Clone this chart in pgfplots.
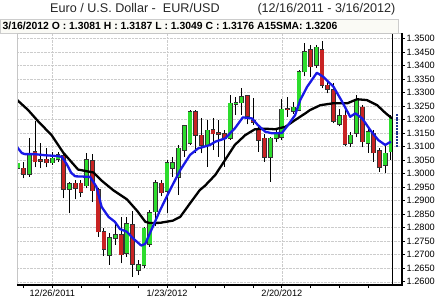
\documentclass[border=0pt]{standalone}
\usepackage{pgfplots}
\pgfplotsset{compat=1.18}
\usepackage{pgfplotstable}
\usepackage{fontspec}
\setmainfont{Liberation Sans}
\definecolor{cgreen}{RGB}{45,220,45}
\definecolor{cred}{RGB}{200,35,35}
\definecolor{cblue}{RGB}{25,25,230}
\definecolor{infobg}{RGB}{250,250,245}
\definecolor{cnavy}{RGB}{30,50,140}

% candle index, open, high, low, close
\pgfplotstableread{
i o h l c
0 1.3019 1.3045 1.3010 1.3038
1 1.3019 1.3044 1.2982 1.2998
2 1.2998 1.3130 1.2988 1.3075
3 1.3081 1.3195 1.3023 1.3044
4 1.3052 1.3114 1.3019 1.3046
5 1.3053 1.3093 1.3023 1.3040
6 1.3040 1.3081 1.3032 1.3056
7 1.3053 1.3081 1.3044 1.3069
8 1.3066 1.3075 1.2908 1.2942
9 1.2942 1.2970 1.2853 1.2961
10 1.2964 1.2975 1.2905 1.2945
11 1.2964 1.2978 1.2915 1.2932
12 1.2955 1.3075 1.2945 1.3050
13 1.3047 1.3072 1.2896 1.2937
14 1.2939 1.2945 1.2766 1.2785
15 1.2785 1.2800 1.2695 1.2720
16 1.2698 1.2780 1.2662 1.2762
17 1.2760 1.2813 1.2736 1.2773
18 1.2773 1.2840 1.2668 1.2700
19 1.2705 1.2840 1.2692 1.2813
20 1.2810 1.2862 1.2618 1.2665
21 1.2643 1.2680 1.2625 1.2662
22 1.2662 1.2803 1.2650 1.2797
23 1.2740 1.2865 1.2730 1.2855
24 1.2859 1.2975 1.2805 1.2966
25 1.2964 1.2978 1.2916 1.2930
26 1.2935 1.3050 1.2855 1.3040
27 1.3020 1.3062 1.2988 1.3039
28 1.2988 1.3106 1.2921 1.3093
29 1.3087 1.3180 1.3062 1.3176
30 1.3112 1.3235 1.3105 1.3229
31 1.3229 1.3235 1.3075 1.3142
32 1.3142 1.3204 1.3075 1.3106
33 1.3106 1.3198 1.3025 1.3160
34 1.3161 1.3204 1.3087 1.3148
35 1.3150 1.3198 1.3062 1.3146
36 1.3146 1.3161 1.3025 1.3130
37 1.3130 1.3290 1.3124 1.3260
38 1.3258 1.3284 1.3217 1.3261
39 1.3262 1.3315 1.3217 1.3284
40 1.3287 1.3290 1.3182 1.3213
41 1.3195 1.3278 1.3180 1.3190
42 1.3167 1.3173 1.3081 1.3124
43 1.3130 1.3148 1.3044 1.3062
44 1.3062 1.3136 1.2970 1.3130
45 1.3130 1.3160 1.3118 1.3149
46 1.3136 1.3275 1.3124 1.3238
47 1.3239 1.3284 1.3210 1.3236
48 1.3232 1.3265 1.3222 1.3245
49 1.3235 1.3385 1.3230 1.3377
50 1.3377 1.3484 1.3360 1.3451
51 1.3457 1.3475 1.3358 1.3395
52 1.3401 1.3475 1.3390 1.3467
53 1.3457 1.3490 1.3315 1.3327
54 1.3327 1.3346 1.3297 1.3312
55 1.3309 1.3334 1.3186 1.3195
56 1.3183 1.3240 1.3175 1.3213
57 1.3216 1.3241 1.3102 1.3109
58 1.3112 1.3153 1.3098 1.3142
59 1.3149 1.3290 1.3134 1.3272
60 1.3245 1.3253 1.3097 1.3118
61 1.3112 1.3167 1.3077 1.3155
62 1.3149 1.3161 1.3044 1.3077
63 1.3085 1.3093 1.3007 1.3023
64 1.3032 1.3106 1.3001 1.3075
65 1.3081 1.3215 1.3049 1.3205
}\ohlc

% blue moving average
\pgfplotstableread{
i v
-0.2 1.3100
0.7 1.3076
1.25 1.3072
3 1.3072
4.7 1.3068
6.8 1.3065
7.7 1.3062
8.6 1.3032
9.3 1.3003
10 1.2990
12.6 1.2988
13.7 1.2951
14.6 1.2877
15.8 1.2840
16.9 1.2822
17.8 1.2795
19 1.2785
20.1 1.2760
21.5 1.2734
22.2 1.2740
23 1.2779
24.8 1.2865
26.5 1.2939
28.3 1.3013
30 1.3069
31.4 1.3093
33.5 1.3106
34.4 1.3118
36.1 1.3130
37.8 1.3167
39.2 1.3208
40.8 1.3204
41.8 1.3180
43.1 1.3155
44.3 1.3149
46 1.3150
47.1 1.3180
48.3 1.3216
49.2 1.3272
50.4 1.3321
52.1 1.3373
53.2 1.3358
55 1.3321
56.5 1.3266
57.9 1.3210
58.8 1.3223
60 1.3204
61.4 1.3161
62.8 1.3124
64 1.3106
65 1.3118
}\smafast

% black moving average
\pgfplotstableread{
i v
-0.2 1.3274
1.8 1.3235
3.6 1.3192
5.9 1.3142
7.9 1.3078
10.5 1.3015
11.7 1.3010
13.2 1.3004
14.6 1.2974
16.6 1.2939
19 1.2905
20.8 1.2862
22.2 1.2822
23 1.2817
24.8 1.2818
27 1.2826
28.3 1.2840
30 1.2890
31.7 1.2939
32.6 1.2955
33.5 1.2975
34.4 1.2995
36.1 1.3050
37.8 1.3106
39.6 1.3142
41.3 1.3164
43.1 1.3166
44.8 1.3164
46.6 1.3173
48.3 1.3198
50.1 1.3223
50.9 1.3235
52.7 1.3253
54.9 1.3260
57.4 1.3260
59.1 1.3275
60.8 1.3272
62.6 1.3253
64 1.3225
65.2 1.3204
}\smaslow

\begin{document}
\begin{tikzpicture}[x=1pt,y=1pt]
\fill[white] (0,0) rectangle (435,298);
\filldraw[fill=infobg, draw=gray!40, line width=0.6pt] (0.3,265) rectangle (398,279);
\node[anchor=base west, inner sep=0, font=\fontsize{12.6}{14}\selectfont, text=black!85] at (50,285.5) {Euro / U.S. Dollar -\ \ EUR/USD};
\node[anchor=base east, inner sep=0, font=\fontsize{12.6}{14}\selectfont, text=black!85] at (395.5,285.5) {(12/16/2011 - 3/16/2012)};
\node[anchor=base west, inner sep=0, font=\bfseries\fontsize{10.4}{12}\selectfont] at (2.5,268.7) {3/16/2012 O : 1.3081 H : 1.3187 L : 1.3049 C : 1.3176 A15SMA: 1.3206};

\begin{axis}[
  name=ax,
  at={(17pt,13pt)}, anchor=south west,
  scale only axis, width=385pt, height=252pt,
  xmin=-0.14, xmax=66.93, ymin=1.2588, ymax=1.3520,
  axis line style={draw=none},
  xtick={6,26,46},
  xticklabels={12/26/2011,1/23/2012,2/20/2012},
  minor xtick={1,11,16,21,31,36,41,51,56,61},
  xtick pos=bottom, ytick pos=right, yticklabel pos=right,
  ytick={1.26,1.265,1.27,1.275,1.28,1.285,1.29,1.295,1.30,1.305,1.31,1.315,1.32,1.325,1.33,1.335,1.34,1.345,1.35},
  tick align=outside, major tick length=3pt, minor tick length=3pt,
  tick style={black, line width=0.8pt},
  yticklabel style={font=\fontsize{9.2}{10}\selectfont, inner sep=1.5pt, /pgf/number format/.cd, fixed, fixed zerofill, precision=4, assume math mode=true},
  xticklabel style={font=\fontsize{9.2}{10}\selectfont, inner sep=0pt, yshift=-1.5pt},
  xmajorgrids, ymajorgrids,
  major grid style={gray!40, densely dotted, line width=0.5pt},
]
% wicks
\addplot[draw=none, mark=none, forget plot, error bars/.cd, y dir=plus, y explicit, error mark=none,
  error bar style={draw=black, line width=0.9pt}]
  table[x=i, y=l, y error plus expr=\thisrow{h}-\thisrow{l}] {\ohlc};
% body outlines
\addplot[draw=none, mark=none, forget plot, error bars/.cd, y dir=plus, y explicit, error mark=none,
  error bar style={draw=black!80, line width=4.8pt}]
  table[x=i, y expr={min(\thisrow{o},\thisrow{c})-0.00025}, y error plus expr={abs(\thisrow{c}-\thisrow{o})+0.0005}] {\ohlc};
% green bodies
\addplot[draw=none, mark=none, forget plot, error bars/.cd, y dir=plus, y explicit, error mark=none,
  error bar style={draw=cgreen, line width=3.4pt}]
  table[x=i, y expr={\thisrow{c}>=\thisrow{o} ? \thisrow{o} : nan}, y error plus expr={\thisrow{c}-\thisrow{o}}] {\ohlc};
% red bodies
\addplot[draw=none, mark=none, forget plot, error bars/.cd, y dir=plus, y explicit, error mark=none,
  error bar style={draw=cred, line width=3.4pt}]
  table[x=i, y expr={\thisrow{c}<\thisrow{o} ? \thisrow{c} : nan}, y error plus expr={\thisrow{o}-\thisrow{c}}] {\ohlc};
% moving averages
\addplot[black, line width=2.3pt, line join=round, mark=none] table[x=i, y=v] {\smaslow};
\addplot[cblue, line width=2.3pt, line join=round, mark=none] table[x=i, y=v] {\smafast};
% cursor line and last-bar marker
\addplot[black, line width=0.9pt, mark=none] coordinates {(65.2,1.2588) (65.2,1.3520)};
\addplot[cnavy, line width=1.6pt, mark=none, dash pattern=on 2pt off 0.8pt] coordinates {(66.06,1.3100) (66.06,1.3222)};
\end{axis}
\draw[gray!45, line width=0.6pt] (ax.south west) -- (ax.north west) -- (ax.north east);
\draw[black, line width=1.6pt] (ax.south west) -- (ax.south east) -- (ax.north east);
\pgfresetboundingbox
\path[use as bounding box] (0,0) rectangle (435,298);
\end{tikzpicture}
\end{document}
